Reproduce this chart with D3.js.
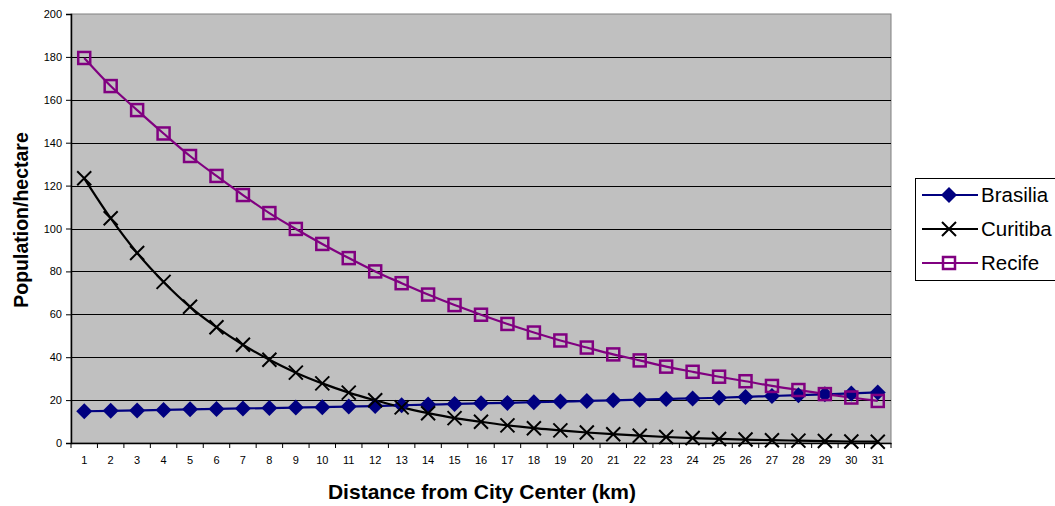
<!DOCTYPE html>
<html><head><meta charset="utf-8">
<script src="https://cdn.jsdelivr.net/npm/d3@7"></script>
<style>body{margin:0;background:#fff;}svg{display:block;font-family:Arial,"Liberation Sans",sans-serif;}</style>
</head><body>
<svg id="c" width="1055" height="506"></svg>
<script>
const distances = d3.range(1, 32);
const brasilia = [14.8,15.0,15.2,15.4,15.7,15.9,16.1,16.3,16.5,16.7,17.0,17.2,17.6,17.9,18.2,18.5,18.7,19.0,19.3,19.6,19.9,20.2,20.5,20.8,21.1,21.5,21.9,22.3,22.7,23.1,23.6];
const curitiba = [123.4,104.8,88.6,75.1,63.5,54.0,45.8,38.8,32.8,27.8,23.5,19.9,16.6,13.9,11.6,9.9,8.2,6.9,5.9,4.9,4.1,3.4,2.8,2.3,1.9,1.6,1.3,1.1,0.9,0.7,0.6];
const recife = [179.5,166.4,155.2,144.3,133.8,124.5,115.6,107.2,99.8,92.8,86.2,80.0,74.5,69.2,64.3,59.8,55.5,51.5,47.8,44.5,41.3,38.5,35.6,33.2,30.9,28.8,26.6,24.7,22.8,21.2,19.6];
const yTicks = d3.range(0, 201, 20);
const seriesNames = ["Brasilia", "Curitiba", "Recife"];
const seriesColors = ["#000080", "#000000", "#800080"];
const seriesData = [brasilia, curitiba, recife];

const svg = d3.select("#c");
const L = 71, R = 891, T = 14, B = 443;
const x = d3.scaleBand().domain(distances).range([L, R]);
const y = d3.scaleLinear().domain([0, 200]).range([B, T]);

// plot area
svg.append("rect").attr("x", L).attr("y", T).attr("width", R - L).attr("height", B - T)
  .attr("fill", "#C0C0C0").attr("stroke", "#808080").attr("stroke-width", 1);
// gridlines
svg.append("g").selectAll("line").data(yTicks.filter(d => d > 0 && d < 200)).join("line")
  .attr("x1", L).attr("x2", R).attr("y1", d => Math.round(y(d)) + 0.5).attr("y2", d => Math.round(y(d)) + 0.5)
  .attr("stroke", "#000").attr("stroke-width", 1);

// axes
const yAxis = d3.axisLeft(y).tickValues(yTicks).tickSize(5).tickPadding(4);
const gy = svg.append("g").attr("transform", `translate(${L},0)`).call(yAxis);
gy.select(".domain").attr("stroke", "#000").attr("stroke-width", 1.5);
gy.selectAll("text").attr("font-size", 11).attr("fill", "#000").attr("font-family", "Arial, Liberation Sans, sans-serif");

const xAxis = d3.axisBottom(x).tickSize(0).tickPadding(13);
const gx = svg.append("g").attr("transform", `translate(0,${B})`).call(xAxis);
gx.select(".domain").attr("stroke", "#000").attr("stroke-width", 1.5);
gx.selectAll("text").attr("font-size", 11).attr("fill", "#000").attr("font-family", "Arial, Liberation Sans, sans-serif");
// tick marks between categories
gx.append("g").selectAll("line").data(d3.range(0, distances.length + 1)).join("line")
  .attr("x1", i => L + i * x.step()).attr("x2", i => L + i * x.step())
  .attr("y1", 0).attr("y2", 5).attr("stroke", "#000");

// titles
svg.append("text").attr("x", 482).attr("y", 499).attr("text-anchor", "middle")
  .attr("font-size", 21).attr("font-weight", "bold").text("Distance from City Center (km)");
svg.append("text").attr("transform", "translate(28,220) rotate(-90)").attr("text-anchor", "middle")
  .attr("font-size", 19.5).attr("font-weight", "bold").text("Population/hectare");

const cx = d => x(d) + x.bandwidth() / 2;

function marker(g, i, px, py) {
  const c = seriesColors[i];
  if (i === 0) {
    g.append("path").attr("d", `M${px},${py - 8}L${px + 8},${py}L${px},${py + 8}L${px - 8},${py}Z`).attr("fill", c);
  } else if (i === 1) {
    g.append("path").attr("d", `M${px - 7},${py - 7}L${px + 7},${py + 7}M${px - 7},${py + 7}L${px + 7},${py - 7}`)
      .attr("stroke", c).attr("stroke-width", 2).attr("fill", "none");
  } else {
    g.append("rect").attr("x", px - 6).attr("y", py - 6).attr("width", 12).attr("height", 12)
      .attr("fill", "none").attr("stroke", c).attr("stroke-width", 2.5);
  }
}

seriesData.forEach((vals, i) => {
  const line = d3.line().x((v, j) => cx(distances[j])).y(v => y(v)).curve(d3.curveMonotoneX);
  svg.append("path").attr("d", line(vals)).attr("fill", "none").attr("stroke", seriesColors[i]).attr("stroke-width", 2.2);
});
seriesData.forEach((vals, i) => {
  const g = svg.append("g");
  vals.forEach((v, j) => marker(g, i, cx(distances[j]), y(v)));
});

// legend
const lg = svg.append("g");
lg.append("rect").attr("x", 915.5).attr("y", 178.5).attr("width", 150).attr("height", 102)
  .attr("fill", "#fff").attr("stroke", "#000");
seriesNames.forEach((n, i) => {
  const ly = 195 + i * 34;
  lg.append("line").attr("x1", 922).attr("x2", 978).attr("y1", ly).attr("y2", ly)
    .attr("stroke", seriesColors[i]).attr("stroke-width", 2);
  marker(lg, i, 949, ly);
  lg.append("text").attr("x", 981).attr("y", ly + 7).attr("font-size", 20.5).text(n);
});
</script>
</body></html>
